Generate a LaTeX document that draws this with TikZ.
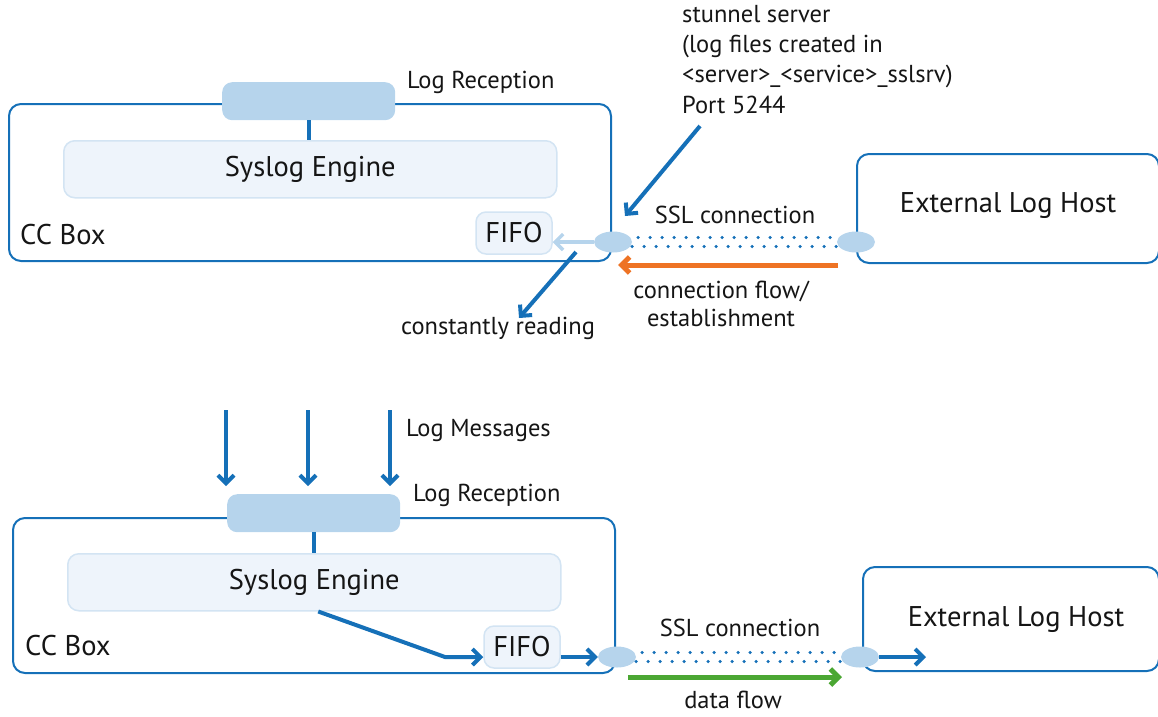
\documentclass[tikz,border=0pt]{standalone}
\usepackage{fontspec}
\setmainfont{PT Sans}
\usetikzlibrary{arrows.meta,shapes.geometric}
\definecolor{cblue}{HTML}{1570B8}
\definecolor{lblue}{HTML}{B6D4EC}
\definecolor{pale}{HTML}{EEF4FB}
\definecolor{paleline}{HTML}{D3E4F3}
\definecolor{corange}{HTML}{EE7324}
\definecolor{cgreen}{HTML}{4BA733}
\definecolor{ink}{HTML}{151515}
\newcommand\fz{\fontsize{24.5}{29}\selectfont}
\newcommand\fbig{\fontsize{28.5}{32}\selectfont}
\tikzset{
 every node/.style={font=\fz, text=ink},
 big/.style={font=\fbig},
 ccbox/.style={draw=cblue, line width=2pt, rounded corners=12pt, anchor=north west, inner sep=0pt},
 recep/.style={fill=lblue, rounded corners=10pt, anchor=north west, inner sep=0pt, minimum width=173pt, minimum height=38pt},
 engine/.style={fill=pale, draw=paleline, line width=1.5pt, rounded corners=11pt, anchor=north west, minimum width=493pt, minimum height=57pt, font=\fbig},
 fifo/.style={fill=pale, draw=paleline, line width=1.5pt, rounded corners=10pt, minimum width=76pt, minimum height=42pt, inner sep=0pt, font=\fbig},
 plug/.style={ellipse, fill=lblue, minimum width=38pt, minimum height=21pt, inner sep=0pt},
 lbl/.style={inner sep=0pt},
 tip/.style={-{Straight Barb[length=8pt, width=16pt]}},
 barrow/.style={draw=cblue, line width=4pt, tip},
 dots/.style={draw=cblue, line width=3.5pt, line cap=round, dash pattern=on 0pt off 12pt},
 stem/.style={draw=cblue, line width=4pt},
}
\begin{document}
\begin{tikzpicture}[x=1pt,y=-1pt]
\useasboundingbox (0,0) rectangle (1158,716);
% ---------- top diagram ----------
\node[ccbox, minimum width=602pt, minimum height=157pt] (cc1) at (8,103) {};
\node[recep] (rec1) at (222,82) {};
\node[lbl, anchor=west] (rec1l) at (407,82) {Log Reception};
\node[engine] (eng1) at (63,140) {Syslog Engine};
\draw[stem] (rec1.south) -- (eng1.north -| rec1.south);
\node[lbl, anchor=west, big] (cc1l) at (20,235) {CC Box};
\node[fifo] (fifo1) at (514,233) {FIFO};
\node[ccbox, minimum width=302pt, minimum height=109pt] (ext1) at (856,153) {};
\node[big] (ext1l) at (1008,206) {External Log Host};
\node[plug] (p1) at (613,242) {};
\node[plug] (p2) at (856,242) {};
\draw[dots] ([yshift=-4.5pt]p1.east) -- ([yshift=-4.5pt]p2.west);
\draw[dots, dash phase=6pt] ([yshift=4.5pt]p1.east) -- ([yshift=4.5pt]p2.west);
\draw[draw=lblue, line width=3.5pt, tip] (p1.west) -- (p1.west -| fifo1.east);
\node[lbl] (ssl1) at (735,215) {SSL connection};
\node[lbl, align=left, anchor=north west, font=\fontsize{24.5}{30.3}\selectfont] (stun) at (682,5)
 {stunnel server\\(log files created in\\<server>\_<service>\_sslsrv)\\Port 5244};
\coordinate (s1a) at (700,126);
\coordinate (s1b) at (625,216);
\draw[barrow] (s1a) -- (s1b);
\coordinate (o1a) at (838,265);
\coordinate (o1b) at (618,265);
\draw[draw=corange, line width=5pt, tip] (o1a) -- (o1b);
\node[lbl, align=center, font=\fontsize{24.5}{28}\selectfont] (cf) at (721,304) {connection flow/\\establishment};
\coordinate (r1a) at (576,252);
\node[lbl] (crd) at (498,328) {constantly reading};
\coordinate (r1b) at (519,318);
\draw[barrow] (r1a) -- (r1b);
% ---------- bottom diagram ----------
\coordinate (m1a) at (226,410); \coordinate (m1b) at (226,486);
\coordinate (m2a) at (308,410); \coordinate (m2b) at (308,486);
\coordinate (m3a) at (390,410); \coordinate (m3b) at (390,486);
\draw[barrow] (m1a) -- (m1b);
\draw[barrow] (m2a) -- (m2b);
\draw[barrow] (m3a) -- (m3b);
\node[lbl, anchor=west] (msg) at (406,431) {Log Messages};
\node[ccbox, minimum width=602pt, minimum height=155pt] (cc2) at (12,517) {};
\node[recep] (rec2) at (227,494) {};
\node[lbl, anchor=west] (rec2l) at (413,495) {Log Reception};
\node[engine] (eng2) at (67,553) {Syslog Engine};
\draw[stem] (rec2.south) -- (eng2.north -| rec2.south);
\node[lbl, anchor=west, big] (cc2l) at (25,646) {CC Box};
\node[fifo] (fifo2) at (522,647) {FIFO};
\node[ccbox, minimum width=296pt, minimum height=104pt] (ext2) at (862,566) {};
\node[big] (ext2l) at (1016,620) {External Log Host};
\node[plug] (p3) at (617,657) {};
\node[plug] (p4) at (860,657) {};
\draw[dots] ([yshift=-4.5pt]p3.east) -- ([yshift=-4.5pt]p4.west);
\draw[dots, dash phase=6pt] ([yshift=4.5pt]p3.east) -- ([yshift=4.5pt]p4.west);
\coordinate (bend) at (445,657);
\draw[draw=cblue, line width=4pt, tip] ([xshift=4pt]eng2.south) -- (bend) -- (bend -| fifo2.west);
\draw[barrow] (p3.west -| fifo2.east) -- (p3.west);
\coordinate (h2) at (926,657);
\draw[barrow] (p4.east) -- (h2);
\node[lbl] (ssl2) at (740,628) {SSL connection};
\coordinate (g1a) at (628,677);
\coordinate (g1b) at (842,677);
\draw[draw=cgreen, line width=5pt, tip] (g1a) -- (g1b);
\node[lbl] (df) at (733,700) {data flow};
\end{tikzpicture}
\end{document}
